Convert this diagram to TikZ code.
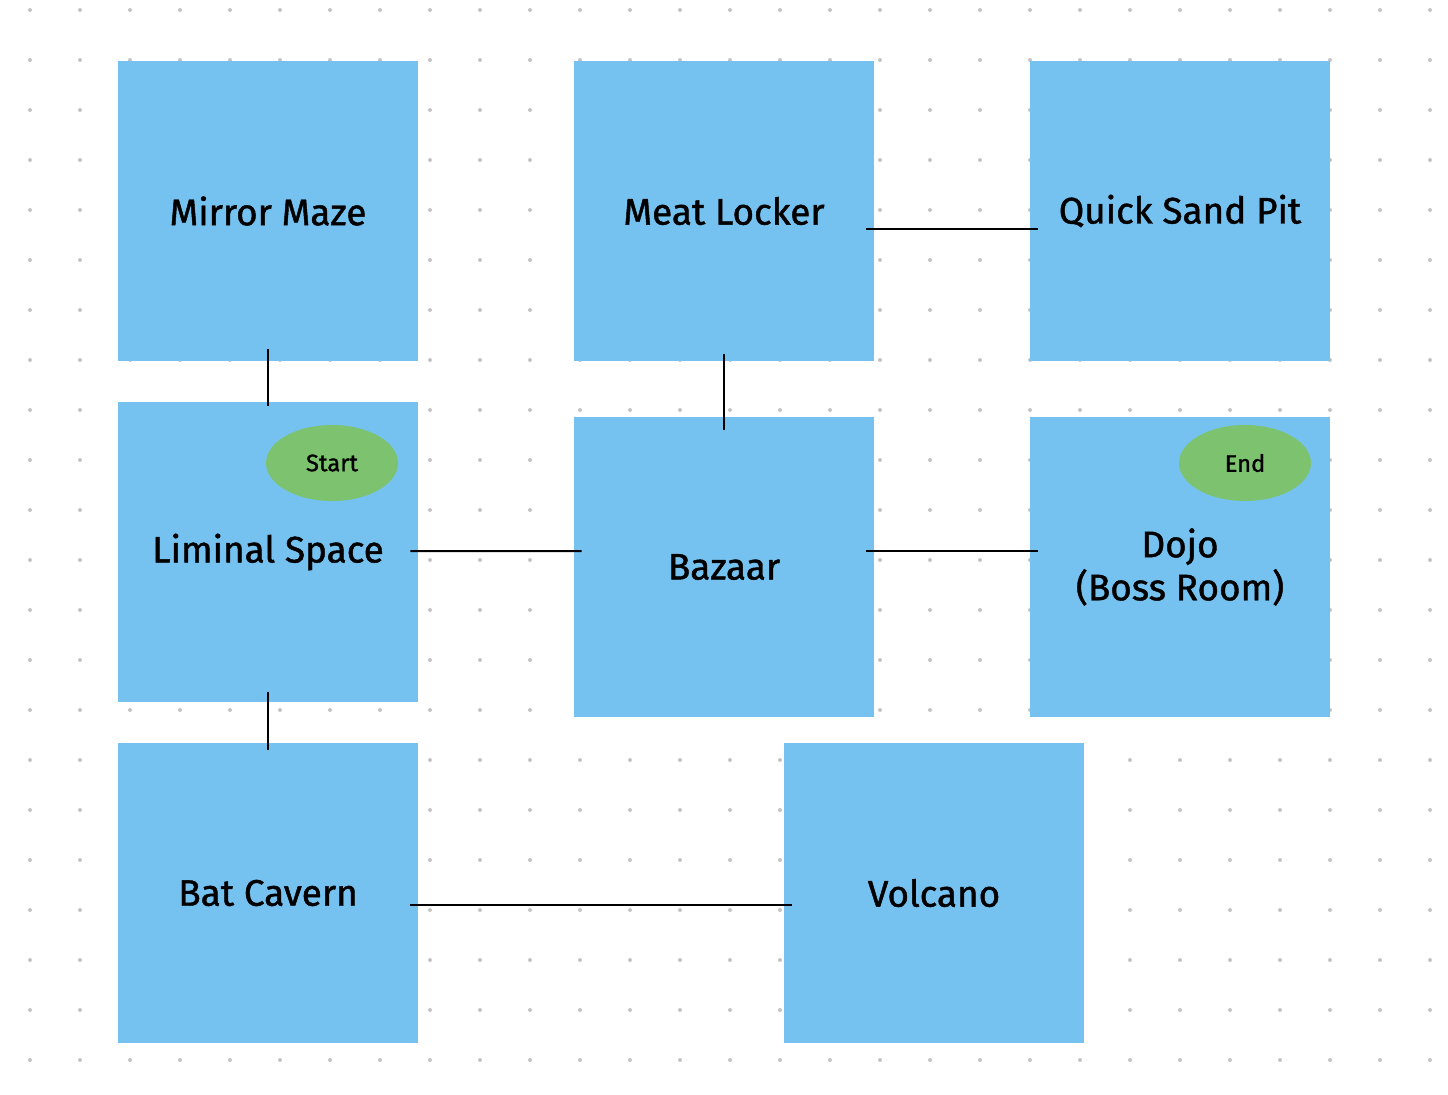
\documentclass[tikz,border=0pt]{standalone}
\usepackage{fontspec}
\setmainfont{Fira Sans}
\newfontfamily\roomfont{Fira Sans}[FakeBold=1.2]
\usetikzlibrary{positioning}
\usetikzlibrary{shapes.geometric}
\definecolor{roomblue}{HTML}{75C2F0}
\definecolor{markgreen}{HTML}{7DC36F}
\definecolor{dotgray}{HTML}{C4C4C4}

\begin{document}
\begin{tikzpicture}[
  room/.style={rectangle,fill=roomblue,minimum size=6cm,inner sep=0pt,
    align=center,font=\roomfont\fontsize{21}{24.5}\selectfont},
  marker/.style={ellipse,fill=markgreen,minimum width=2.64cm,minimum height=1.52cm,
    inner sep=0pt,font=\roomfont\fontsize{13.5}{15}\selectfont},
  link/.style={line width=0.04cm,draw=black}
]
  \useasboundingbox (0, 0) rectangle (28.96, -21.88);

  % dot grid
  \foreach \x in {0,...,28}
    \foreach \y in {0,...,21}
      \fill[dotgray] (0.6 + \x, -0.2 - \y) circle (0.04);

  \node[room] (MM) at (5.36, -4.22) {Mirror Maze};
  \node[room] (ML) at (14.48, -4.22) {Meat Locker};
  \node[room] (QS) at (23.6, -4.22) {Quick Sand Pit};

  \node[room] (LS) at (5.36, -11.04) {Liminal Space};
  \node[room] (BZ) at (14.48, -11.34) {Bazaar};
  \node[room] (DJ) at (23.6, -11.34) {Dojo\\(Boss Room)};

  \node[room] (BC) at (5.36, -17.86) {Bat Cavern};
  \node[room] (VC) at (18.68, -17.86) {Volcano};

  \node[marker] (S) at (6.64, -9.26) {Start};
  \node[marker] (E) at (24.9, -9.26) {End};

  \draw[link] ([yshift=0.24cm]MM.south) -- ([yshift=-0.08cm]LS.north);
  \draw[link] ([yshift=0.14cm]ML.south) -- ([yshift=-0.26cm]BZ.north);
  \draw[link] ([shift={(-0.16, -0.36)}]ML.east) -- ([shift={(0.16, -0.36)}]QS.west);
  \draw[link] ([shift={(-0.16, 0.02)}]LS.east) -- ([shift={(0.16, 0.32)}]BZ.west);
  \draw[link] ([shift={(-0.16, 0.32)}]BZ.east) -- ([shift={(0.16, 0.32)}]DJ.west);
  \draw[link] ([yshift=0.2cm]LS.south) -- ([yshift=-0.14cm]BC.north);
  \draw[link] ([shift={(-0.16, -0.24)}]BC.east) -- ([shift={(0.16, -0.24)}]VC.west);
\end{tikzpicture}
\end{document}
